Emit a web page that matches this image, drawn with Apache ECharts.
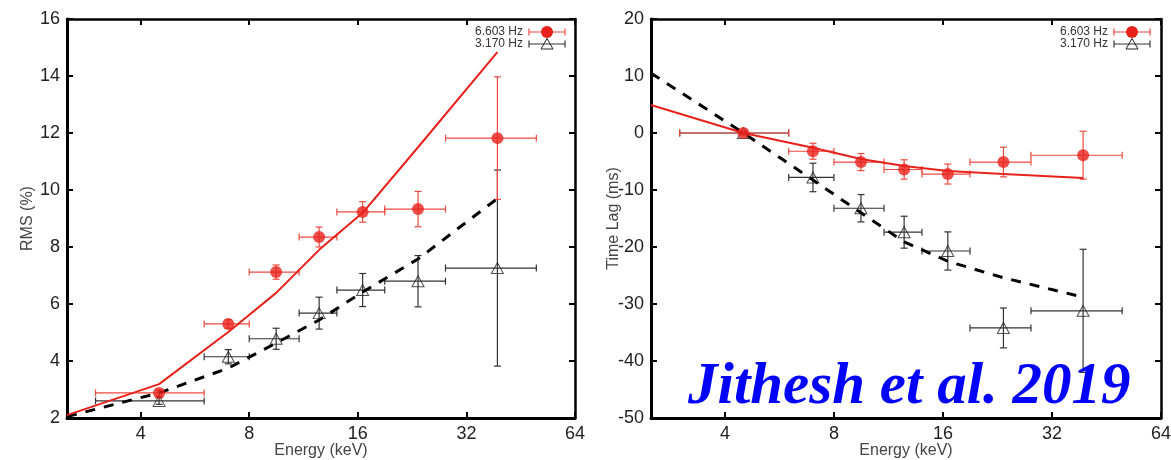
<!DOCTYPE html>
<html><head><meta charset="utf-8">
<script src="https://cdn.jsdelivr.net/npm/echarts@6/dist/echarts.min.js"></script>
<style>html,body{margin:0;padding:0;background:#fff}#c{width:1171px;height:460px}</style>
</head><body><div id="c"></div>
<script>
// ---- data ----
const energy   = [4.5, 7, 9.5, 12.5, 16.5, 23.5, 39];
const energyLo = [3, 6, 8, 11, 14, 19, 28];
const energyHi = [6, 8, 11, 14, 19, 28, 50];

const rmsHigh    = [2.88, 5.30, 7.12, 8.35, 9.23, 9.33, 11.82];   // 6.603 Hz
const rmsHighErr = [0.10, 0.15, 0.25, 0.35, 0.36, 0.62, 2.15];
const rmsLow     = [2.60, 4.15, 4.78, 5.68, 6.49, 6.80, 7.26];    // 3.170 Hz
const rmsLowErr  = [0.12, 0.25, 0.37, 0.56, 0.58, 0.90, 3.44];

const lagHigh    = [0, -3.2, -5.1, -6.4, -7.2, -5.1, -3.9];      // 6.603 Hz
const lagHighErr = [0.3, 1.4, 1.5, 1.7, 1.75, 2.6, 4.2];
const lagLow     = [0, -7.8, -13.2, -17.4, -20.7, -34.2, -31.2]; // 3.170 Hz
const lagLowErr  = [0.3, 2.5, 2.4, 2.8, 3.35, 3.5, 10.8];

const modelEnergy  = [2.5, 4.5, 7, 9.5, 12.5, 16.5, 23.5, 39];
const rmsModelHigh = [2.1, 3.19, 5.02, 6.39, 7.9, 9.2, 11.5, 14.84];
const rmsModelLow  = [2.05, 2.88, 3.75, 4.63, 5.44, 6.42, 7.58, 9.7];
const lagModelHigh = [4.9, 0, -2.6, -4.56, -5.8, -6.67, -7.19, -7.9];
const lagModelLow  = [10.5, 0, -8.25, -14.0, -19.1, -22.5, -25.4, -28.8];

const legendLabels = ['6.603 Hz', '3.170 Hz'];
const annotation = 'Jithesh et al. 2019';

// ---- helpers ----
const RED = '#e8221b', REDBAR = '#ec4a40', BLKBAR = '#333';
const FONT = 'Liberation Sans, Arial, sans-serif';

function rows(vals, errs) {
  return energy.map((e, i) => [e, vals[i], energyLo[i], energyHi[i], vals[i] - errs[i], vals[i] + errs[i]]);
}
function pairs(xs, ys) { return xs.map((x, i) => [x, ys[i]]); }

function errRender(color) {
  return function (params, api) {
    const x = api.value(0), y = api.value(1);
    const pL = api.coord([api.value(2), y]), pR = api.coord([api.value(3), y]);
    const pT = api.coord([x, api.value(5)]), pB = api.coord([x, api.value(4)]);
    const st = { stroke: color, lineWidth: 1.2 };
    const c = 3.5;
    const L = (x1, y1, x2, y2) => ({ type: 'line', shape: { x1, y1, x2, y2 }, style: st });
    return { type: 'group', children: [
      L(pL[0], pL[1], pR[0], pR[1]),
      L(pL[0], pL[1] - c, pL[0], pL[1] + c),
      L(pR[0], pR[1] - c, pR[0], pR[1] + c),
      L(pT[0], pT[1], pB[0], pB[1]),
      L(pT[0] - c, pT[1], pT[0] + c, pT[1]),
      L(pB[0] - c, pB[1], pB[0] + c, pB[1])
    ]};
  };
}

function xAxes(grid) {
  const base = {
    gridIndex: grid, type: 'log', logBase: 2, min: 2.5, max: 64,
    splitLine: { show: false }, minorTick: { show: false },
    axisTick: { inside: true, length: 6, lineStyle: { color: '#000', width: 2 } }
  };
  return [
    Object.assign({}, base, {
      position: 'bottom',
      axisLine: { onZero: false, lineStyle: { color: '#000', width: 3 } },
      axisLabel: { showMinLabel: false, fontSize: 18, color: '#222', fontFamily: FONT, margin: 7,
                   formatter: v => String(Math.round(v)) },
      name: 'Energy (keV)', nameLocation: 'middle', nameGap: 25, nameMoveOverlap: false,
      nameTextStyle: { fontSize: 16, color: '#444', fontFamily: FONT }
    }),
    Object.assign({}, base, {
      position: 'top',
      axisLine: { onZero: false, lineStyle: { color: '#000', width: 2.5 } },
      axisLabel: { show: false }
    })
  ];
}
function yAxes(grid, min, max, interval, name, gap) {
  const base = {
    gridIndex: grid, type: 'value', min, max, interval,
    splitLine: { show: false },
    axisTick: { inside: true, length: 6, lineStyle: { color: '#000', width: 2 } }
  };
  return [
    Object.assign({}, base, {
      position: 'left',
      axisLine: { onZero: false, lineStyle: { color: '#000', width: 3 } },
      axisLabel: { fontSize: 18, color: '#222', fontFamily: FONT, margin: 7 },
      name, nameLocation: 'middle', nameGap: gap, nameMoveOverlap: false,
      nameTextStyle: { fontSize: 16, color: '#444', fontFamily: FONT }
    }),
    Object.assign({}, base, {
      position: 'right',
      axisLine: { onZero: false, lineStyle: { color: '#000', width: 2.5 } },
      axisLabel: { show: false }
    })
  ];
}

function panelSeries(xi, yi, hiVals, hiErr, loVals, loErr, mHi, mLo) {
  return [
    { type: 'custom', xAxisIndex: xi, yAxisIndex: yi, renderItem: errRender(BLKBAR),
      encode: { x: 0, y: 1 }, data: rows(loVals, loErr), z: 2 },
    { type: 'custom', xAxisIndex: xi, yAxisIndex: yi, renderItem: errRender(REDBAR),
      encode: { x: 0, y: 1 }, data: rows(hiVals, hiErr), z: 2 },
    { type: 'line', xAxisIndex: xi, yAxisIndex: yi, data: pairs(modelEnergy, mLo), symbol: 'none',
      lineStyle: { color: '#000', width: 3, type: [10, 9] }, z: 3 },
    { type: 'line', xAxisIndex: xi, yAxisIndex: yi, data: pairs(modelEnergy, mHi), symbol: 'none',
      lineStyle: { color: RED, width: 2 }, z: 3 },
    { type: 'scatter', xAxisIndex: xi, yAxisIndex: yi, data: pairs(energy, loVals),
      symbol: 'triangle', symbolSize: [12, 11],
      itemStyle: { color: 'rgba(0,0,0,0)', borderColor: '#222', borderWidth: 1 }, z: 4 },
    { type: 'scatter', xAxisIndex: xi, yAxisIndex: yi, data: pairs(energy, hiVals),
      symbol: 'circle', symbolSize: 12, itemStyle: { color: RED }, z: 5 }
  ];
}

function legendGraphics(rx, y0) {
  const els = [];
  const rowsDef = [
    { label: legendLabels[0], bar: REDBAR, mark: 'circle' },
    { label: legendLabels[1], bar: BLKBAR, mark: 'triangle' }
  ];
  rowsDef.forEach((r, i) => {
    const y = y0 + i * 12;
    const x1 = rx + 6, x2 = rx + 42, xm = rx + 24;
    els.push({ type: 'text', x: rx, y: y, style: { text: r.label, align: 'right', verticalAlign: 'middle',
      font: '12px "Liberation Sans Narrow", "Liberation Sans", Arial, sans-serif', fill: '#333' } });
    const st = { stroke: r.bar, lineWidth: 1.2 };
    els.push({ type: 'line', shape: { x1, y1: y, x2, y2: y }, style: st });
    els.push({ type: 'line', shape: { x1, y1: y - 3.5, x2: x1, y2: y + 3.5 }, style: st });
    els.push({ type: 'line', shape: { x1: x2, y1: y - 3.5, x2, y2: y + 3.5 }, style: st });
    if (r.mark === 'circle') {
      els.push({ type: 'circle', shape: { cx: xm, cy: y, r: 6 }, style: { fill: RED } });
    } else {
      els.push({ type: 'polygon', shape: { points: [[xm, y - 5.5], [xm + 6, y + 5], [xm - 6, y + 5]] },
        style: { fill: 'rgba(0,0,0,0)', stroke: '#222', lineWidth: 1 } });
    }
  });
  return els;
}

const chart = echarts.init(document.getElementById('c'), null, { renderer: 'canvas' });
chart.setOption({
  animation: false,
  backgroundColor: '#fff',
  grid: [
    { left: 67, top: 19, width: 508, height: 399, outerBoundsMode: 'none', containLabel: false },
    { left: 651, top: 19, width: 510, height: 399, outerBoundsMode: 'none', containLabel: false }
  ],
  xAxis: [].concat(xAxes(0), xAxes(1)),
  yAxis: [].concat(yAxes(0, 2, 16, 2, 'RMS (%)', 31), yAxes(1, -50, 20, 10, 'Time Lag (ms)', 29)),
  series: [].concat(
    panelSeries(0, 0, rmsHigh, rmsHighErr, rmsLow, rmsLowErr, rmsModelHigh, rmsModelLow),
    panelSeries(2, 2, lagHigh, lagHighErr, lagLow, lagLowErr, lagModelHigh, lagModelLow)
  ),
  graphic: [].concat(
    legendGraphics(523, 32),
    legendGraphics(1108, 32),
    [{ type: 'text', x: 688, y: 388, z: 10,
       style: { text: annotation, verticalAlign: 'middle', fill: '#0000ff',
                font: 'italic bold 59px "Liberation Serif", "DejaVu Serif", serif' } }]
  )
});
</script>
</body></html>
